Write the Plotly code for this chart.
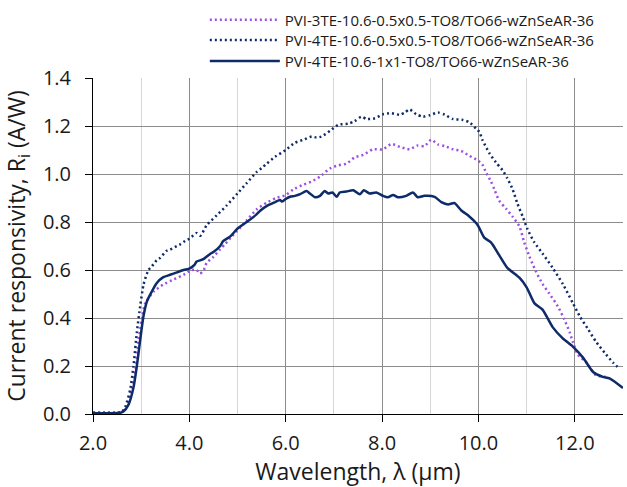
import plotly.graph_objects as go

names = [
    "PVI-3TE-10.6-0.5x0.5-TO8/TO66-wZnSeAR-36",
    "PVI-4TE-10.6-0.5x0.5-TO8/TO66-wZnSeAR-36",
    "PVI-4TE-10.6-1x1-TO8/TO66-wZnSeAR-36",
]

x1 = [2.0, 2.3, 2.5, 2.6, 2.7, 2.77, 2.88, 2.94, 3.01, 3.08, 3.26, 3.46, 3.67, 3.88, 4.05, 4.15, 4.22,
      4.3, 4.36, 4.5, 4.64, 4.75, 4.88, 4.98, 5.19, 5.4, 5.6, 5.8, 6.0, 6.16, 6.37, 6.54, 6.71, 6.92,
      7.09, 7.26, 7.43, 7.61, 7.81, 8.02, 8.19, 8.37, 8.57, 8.74, 8.88, 9.02, 9.16, 9.3, 9.47, 9.64,
      9.81, 9.99, 10.08, 10.15, 10.26, 10.33, 10.43, 10.57, 10.71, 10.85, 10.95, 11.06, 11.19, 11.33,
      11.47, 11.65, 11.78, 11.89, 11.96, 12.06, 12.24, 12.44, 12.62, 12.68]
y1 = [0.005, 0.005, 0.005, 0.01, 0.03, 0.08, 0.18, 0.30, 0.39, 0.46, 0.51, 0.54, 0.56, 0.58, 0.60,
      0.60, 0.585, 0.60, 0.63, 0.655, 0.687, 0.71, 0.74, 0.76, 0.807, 0.853, 0.88, 0.90, 0.912, 0.936,
      0.956, 0.969, 0.989, 1.023, 1.036, 1.043, 1.069, 1.08, 1.103, 1.103, 1.125, 1.113, 1.103, 1.119,
      1.116, 1.143, 1.123, 1.116, 1.103, 1.096, 1.076, 1.056, 1.04, 1.009, 0.969, 0.936, 0.889, 0.856,
      0.822, 0.782, 0.715, 0.655, 0.595, 0.542, 0.502, 0.448, 0.395, 0.342, 0.301, 0.248, 0.215,
      0.161, 0.155, 0.15]

x2 = [2.0, 2.3, 2.5, 2.6, 2.67, 2.77, 2.84, 2.91, 2.98, 3.05, 3.15, 3.22, 3.32, 3.39, 3.53, 3.6,
      3.74, 3.81, 3.94, 4.0, 4.15, 4.23, 4.36, 4.57, 4.77, 5.0, 5.19, 5.4, 5.5, 5.6, 5.78, 6.0, 6.19,
      6.37, 6.54, 6.64, 6.74, 6.92, 7.09, 7.3, 7.43, 7.57, 7.68, 7.85, 8.02, 8.19, 8.37, 8.47, 8.57,
      8.71, 8.85, 8.99, 9.16, 9.3, 9.47, 9.68, 9.81, 9.95, 10.02, 10.08, 10.22, 10.36, 10.5, 10.6,
      10.71, 10.81, 10.92, 11.02, 11.16, 11.33, 11.54, 11.75, 11.96, 12.1, 12.27, 12.44, 12.62, 12.79,
      12.93]
y2 = [0.005, 0.005, 0.005, 0.008, 0.03, 0.10, 0.20, 0.34, 0.45, 0.54, 0.60, 0.615, 0.64, 0.65, 0.68,
      0.685, 0.70, 0.707, 0.725, 0.73, 0.754, 0.743, 0.787, 0.828, 0.868, 0.919, 0.962, 1.009, 1.025,
      1.042, 1.072, 1.10, 1.13, 1.143, 1.156, 1.152, 1.156, 1.18, 1.205, 1.21, 1.22, 1.239, 1.229,
      1.232, 1.249, 1.253, 1.247, 1.256, 1.269, 1.249, 1.239, 1.245, 1.256, 1.247, 1.229, 1.225, 1.216,
      1.189, 1.175, 1.143, 1.089, 1.049, 1.016, 0.982, 0.936, 0.876, 0.822, 0.769, 0.715, 0.669,
      0.609, 0.542, 0.462, 0.408, 0.355, 0.301, 0.255, 0.215, 0.188]

x3 = [2.0, 2.3, 2.57, 2.63, 2.74, 2.84, 2.91, 2.98, 3.05, 3.12, 3.22, 3.32, 3.46, 3.6, 3.74, 3.88,
      4.01, 4.1, 4.15, 4.22, 4.29, 4.43, 4.5, 4.64, 4.7, 4.85, 5.0, 5.19, 5.4, 5.47, 5.61, 5.78, 5.88,
      5.92, 6.0, 6.09, 6.19, 6.3, 6.43, 6.5, 6.61, 6.71, 6.81, 6.88, 6.97, 7.06, 7.12, 7.26, 7.4,
      7.54, 7.62, 7.74, 7.88, 8.02, 8.12, 8.23, 8.33, 8.5, 8.64, 8.74, 8.88, 9.09, 9.23, 9.37, 9.5,
      9.64, 9.81, 9.95, 10.0, 10.12, 10.26, 10.43, 10.6, 10.85, 11.0, 11.16, 11.33, 11.54, 11.75,
      11.96, 12.17, 12.38, 12.58, 12.72, 13.0]
y3 = [0.003, 0.003, 0.005, 0.01, 0.04, 0.11, 0.20, 0.31, 0.41, 0.47, 0.51, 0.545, 0.57, 0.58, 0.59,
      0.60, 0.607, 0.62, 0.635, 0.64, 0.645, 0.667, 0.675, 0.70, 0.72, 0.74, 0.773, 0.80, 0.833,
      0.847, 0.867, 0.883, 0.892, 0.885, 0.896, 0.905, 0.909, 0.916, 0.929, 0.919, 0.903, 0.909,
      0.929, 0.919, 0.923, 0.905, 0.923, 0.927, 0.932, 0.916, 0.932, 0.919, 0.923, 0.909, 0.903,
      0.913, 0.903, 0.909, 0.923, 0.903, 0.909, 0.905, 0.883, 0.873, 0.879, 0.849, 0.823, 0.796,
      0.782, 0.735, 0.715, 0.662, 0.609, 0.568, 0.528, 0.462, 0.435, 0.362, 0.315, 0.281, 0.235,
      0.175, 0.155, 0.148, 0.108]

purple = "#9b4fe3"
navy = "#0d2a69"

fig = go.Figure()
fig.add_trace(go.Scatter(x=x1, y=y1, mode="lines", name=names[0], legend="legend",
                         line=dict(color=purple, width=2.5, dash="2px,3px", shape="spline", smoothing=0.6)))
fig.add_trace(go.Scatter(x=x2, y=y2, mode="lines", name=names[1], legend="legend2",
                         line=dict(color=navy, width=2.5, dash="2px,3px", shape="spline", smoothing=0.6)))
fig.add_trace(go.Scatter(x=x3, y=y3, mode="lines", name=names[2], legend="legend3",
                         line=dict(color=navy, width=2.5, shape="spline", smoothing=0.6)))

leg_common = dict(x=0.211, xanchor="left", yanchor="middle", bgcolor="rgba(0,0,0,0)",
                  font=dict(size=15), itemwidth=70)

fig.update_layout(
    width=627, height=487,
    margin=dict(l=93, r=4, t=66, b=73),
    paper_bgcolor="white", plot_bgcolor="white",
    font=dict(family="Open Sans", size=19, color="#1a1a1a"),
    showlegend=True,
    legend=dict(y=1.1726, **leg_common),
    legend2=dict(y=1.112, **leg_common),
    legend3=dict(y=1.050, **leg_common),
    xaxis=dict(range=[2, 13], tick0=2, dtick=2, tickformat=".1f", tickfont=dict(size=20),
               showline=True, linecolor="black", linewidth=1,
               ticks="outside", ticklen=7, tickcolor="black", ticklabelstandoff=4,
               showgrid=True, gridcolor="#8c8c8c", gridwidth=1, zeroline=False,
               minor=dict(dtick=1, tick0=2, showgrid=True, gridcolor="#d6d6d6", gridwidth=1, ticks=""),
               title=dict(text="Wavelength, λ (µm)", standoff=4)),
    yaxis=dict(range=[0, 1.4], tick0=0, dtick=0.2, tickformat=".1f", tickfont=dict(size=20),
               showline=True, linecolor="black", linewidth=1,
               ticks="outside", ticklen=7, tickcolor="black", ticklabelstandoff=10,
               showgrid=True, gridcolor="#8c8c8c", gridwidth=1, zeroline=False,
               title=dict(text="Current responsivity, R<sub>i</sub> (A/W)", standoff=12)),
)

fig.write_html("out.html", config={"displayModeBar": False},
               post_script="document.body.style.margin='0';")
